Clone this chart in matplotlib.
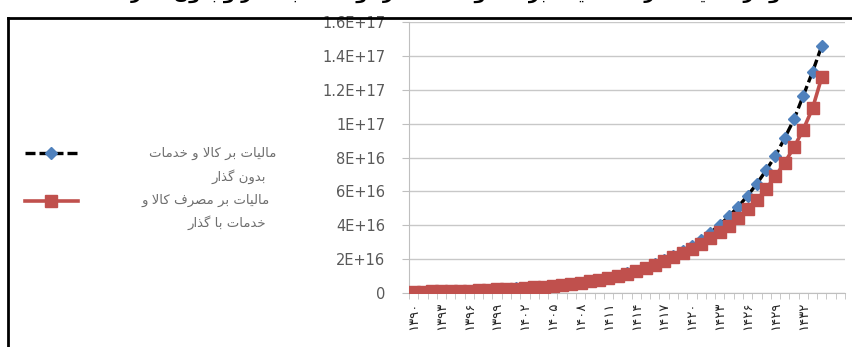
import numpy as np
import matplotlib
matplotlib.use('Agg')
import matplotlib.pyplot as plt
from matplotlib.lines import Line2D

# tax revenue (rial) per year, two scenarios
years = [1390 + i for i in range(47)]
no_transition = [0.72e15, 0.81e15, 0.91e15, 1.03e15, 1.16e15, 1.31e15, 1.47e15, 1.66e15,
                 1.87e15, 2.11e15, 2.38e15, 2.68e15, 3.02e15, 3.40e15, 3.83e15, 4.32e15,
                 4.87e15, 5.49e15, 6.18e15, 6.97e15, 7.85e15, 8.95e15, 10.2e15, 11.6e15,
                 13.2e15, 15.0e15, 17.0e15, 19.3e15, 21.8e15, 24.7e15, 27.9e15, 31.5e15,
                 35.6e15, 40.2e15, 45.3e15, 51.0e15, 57.5e15, 64.5e15, 72.5e15, 81.0e15,
                 91.5e15, 102.5e15, 116.5e15, 130.5e15, 146.0e15]
with_transition = [0.71e15, 0.80e15, 0.90e15, 1.01e15, 1.14e15, 1.29e15, 1.45e15, 1.63e15,
                   1.84e15, 2.08e15, 2.34e15, 2.64e15, 2.98e15, 3.36e15, 3.79e15, 4.27e15,
                   4.82e15, 5.44e15, 6.13e15, 6.92e15, 7.80e15, 8.90e15, 10.1e15, 11.5e15,
                   13.1e15, 14.9e15, 16.8e15, 18.9e15, 21.0e15, 23.4e15, 26.0e15, 29.0e15,
                   32.2e15, 35.8e15, 39.8e15, 44.3e15, 49.5e15, 55.0e15, 61.5e15, 69.0e15,
                   77.0e15, 86.0e15, 96.5e15, 109.0e15, 127.5e15]
yticks = [0, 2e16, 4e16, 6e16, 8e16, 1e17, 1.2e17, 1.4e17, 1.6e17]
ytick_labels = ['0', '2E+16', '4E+16', '6E+16', '8E+16', '1E+17', '1.2E+17', '1.4E+17', '1.6E+17']
label1 = ['مالیات بر کالا و خدمات', 'بدون گذار']
label2 = ['مالیات بر مصرف کالا و', 'خدمات با گذار']
title = 'نمودار مقایسه درآمد مالیات بر کالا و خدمات در دو حالت با گذار و بدون گذار'

# arabic contextual forms: isolated, final, initial, medial
FORMS = {
    'ا': ('\uFE8D', '\uFE8E', None, None),
    'ب': ('\uFE8F', '\uFE90', '\uFE91', '\uFE92'),
    'ت': ('\uFE95', '\uFE96', '\uFE97', '\uFE98'),
    'خ': ('\uFEA5', '\uFEA6', '\uFEA7', '\uFEA8'),
    'د': ('\uFEA9', '\uFEAA', None, None),
    'ذ': ('\uFEAB', '\uFEAC', None, None),
    'ر': ('\uFEAD', '\uFEAE', None, None),
    'ز': ('\uFEAF', '\uFEB0', None, None),
    'س': ('\uFEB1', '\uFEB2', '\uFEB3', '\uFEB4'),
    'ص': ('\uFEB9', '\uFEBA', '\uFEBB', '\uFEBC'),
    'ح': ('\uFEA1', '\uFEA2', '\uFEA3', '\uFEA4'),
    'ع': ('\uFEC9', '\uFECA', '\uFECB', '\uFECC'),
    'ف': ('\uFED1', '\uFED2', '\uFED3', '\uFED4'),
    'ق': ('\uFED5', '\uFED6', '\uFED7', '\uFED8'),
    'ل': ('\uFEDD', '\uFEDE', '\uFEDF', '\uFEE0'),
    'م': ('\uFEE1', '\uFEE2', '\uFEE3', '\uFEE4'),
    'ن': ('\uFEE5', '\uFEE6', '\uFEE7', '\uFEE8'),
    'ه': ('\uFEE9', '\uFEEA', '\uFEEB', '\uFEEC'),
    'و': ('\uFEED', '\uFEEE', None, None),
    'ک': ('\uFB8E', '\uFB8F', '\uFB90', '\uFB91'),
    'گ': ('\uFB92', '\uFB93', '\uFB94', '\uFB95'),
    'ی': ('\uFBFC', '\uFBFD', '\uFBFE', '\uFBFF'),
}


def dual(c):
    return c in FORMS and FORMS[c][2] is not None


def shape(text):
    # join letters and put them in visual (right-to-left) order
    out = []
    i = 0
    n = len(text)
    while i < n:
        c = text[i]
        if c not in FORMS:
            out.append(c)
            i += 1
            continue
        joins_prev = i > 0 and dual(text[i - 1])
        if c == 'ل' and i + 1 < n and text[i + 1] == 'ا':
            out.append('\uFEFC' if joins_prev else '\uFEFB')
            i += 2
            continue
        joins_next = dual(c) and i + 1 < n and text[i + 1] in FORMS
        iso, fin, ini, med = FORMS[c]
        if joins_prev and joins_next:
            out.append(med)
        elif joins_prev:
            out.append(fin)
        elif joins_next:
            out.append(ini)
        else:
            out.append(iso)
        i += 1
    return ''.join(reversed(out))


def fa_digits(num):
    return ''.join(chr(0x06F0 + int(d)) for d in str(num))


plt.rcParams['font.family'] = ['DejaVu Sans']
W, H = 853, 347
fig = plt.figure(figsize=(W / 100, H / 100), dpi=100)
ax = fig.add_axes([409 / W, 1 - 293 / H, 436 / W, 271 / H])

grey = '#595959'
blue = '#4F81BD'
red = '#C0504D'
x = np.arange(len(no_transition))

ax.plot(x, no_transition, color='black', linestyle=(0, (3, 1.2)), linewidth=2.4,
        marker='D', markersize=6, markerfacecolor=blue, markeredgecolor=blue, zorder=3)
ax.plot(x, with_transition, color=red, linewidth=2.6,
        marker='s', markersize=9, markerfacecolor=red, markeredgecolor=red, zorder=4)

ax.set_xlim(-0.5, len(years) - 0.5)
ax.set_ylim(0, 1.6e17)
ax.set_yticks(yticks)
ax.set_yticklabels(ytick_labels, color=grey, fontsize=10.5)
ax.yaxis.grid(True, color='#C8C8C8', linewidth=1)
ax.set_axisbelow(True)

tick_pos = list(range(0, 43, 3))
ax.set_xticks(tick_pos)
ax.set_xticklabels([fa_digits(years[i]) for i in tick_pos], rotation=90, fontsize=9.5, color='#262626')
ax.set_xticks(np.arange(-0.5, len(years), 1), minor=True)
ax.tick_params(axis='x', which='major', length=0, pad=6)
ax.tick_params(axis='x', which='minor', length=4, color='#BFBFBF')
ax.tick_params(axis='y', length=5, color='#BFBFBF', pad=12)

for side in ['top', 'right']:
    ax.spines[side].set_visible(False)
ax.spines['left'].set_color('#BFBFBF')
ax.spines['bottom'].set_color('#BFBFBF')

# legend drawn by hand, symbols on the left, text right aligned
def fx(px):
    return px / W


def fy(py):
    return 1 - py / H


fig.add_artist(Line2D([fx(25), fx(78)], [fy(153), fy(153)], color='black',
                      linestyle=(0, (3, 1.2)), linewidth=2.4))
fig.add_artist(Line2D([fx(51.5)], [fy(153)], marker='D', markersize=6, color=blue))
fig.add_artist(Line2D([fx(25), fx(78)], [fy(201), fy(201)], color=red, linewidth=2.6))
fig.add_artist(Line2D([fx(51.5)], [fy(201)], marker='s', markersize=9, color=red))

legend_grey = '#6E6E6E'
fig.text(fx(276), fy(153), shape(label1[0]), ha='right', va='center', fontsize=9.5, color=legend_grey)
fig.text(fx(266), fy(177), shape(label1[1]), ha='right', va='center', fontsize=9.5, color=legend_grey)
fig.text(fx(270), fy(200), shape(label2[0]), ha='right', va='center', fontsize=9.5, color=legend_grey)
fig.text(fx(266), fy(223), shape(label2[1]), ha='right', va='center', fontsize=9.5, color=legend_grey)

# clipped heading above the frame
fig.text(fx(465), fy(-1), shape(title), ha='center', va='baseline', fontsize=13,
         fontweight='bold', color='black')

# chart frame
fig.add_artist(Line2D([fx(8), fx(853)], [fy(18), fy(18)], color='black', linewidth=2))
fig.add_artist(Line2D([fx(8), fx(8)], [fy(18), fy(347)], color='black', linewidth=2))

fig.savefig('out.png', dpi=100)
